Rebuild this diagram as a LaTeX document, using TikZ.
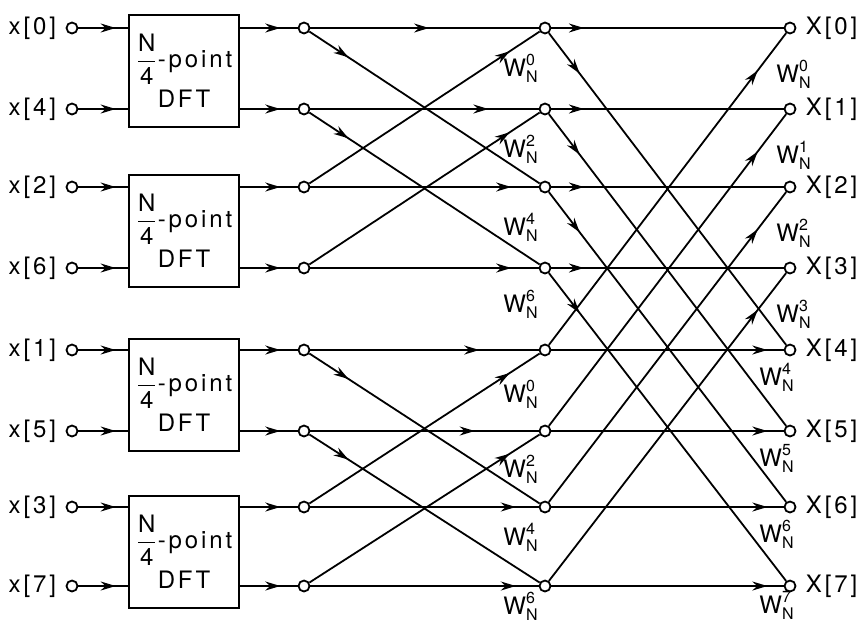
\documentclass[tikz,border=0pt]{standalone}
\usepackage{amsmath}
\usepackage{fontspec}
\setmainfont[LetterSpace=12]{TeX Gyre Heros}
\usetikzlibrary{arrows.meta,decorations.markings,calc,positioning}

\newcommand{\tw}[1]{$\text{W}^{\text{#1}}_{\text{N}}$}

\begin{document}
\begin{tikzpicture}[x=0.5pt,y=-0.5pt,line width=0.9pt]
  \tikzset{every node/.style={font=\fontsize{12}{14}\selectfont}}
  \tikzset{dot/.style={circle,draw,fill=white,inner sep=0pt,minimum size=5.5pt}}
  \tikzset{dftbox/.style={draw,minimum width=55pt,minimum height=56pt,align=center,inner sep=2pt}}
  \tikzset{arr/.style={postaction={decorate},decoration={markings,
      mark=at position #1 with {\arrow{Stealth[length=7.5pt,width=4.5pt]}}}}}
  \useasboundingbox (0,0) rectangle (865,622);

  \foreach \k/\y/\n in {0/28/0,1/109/4,2/187/2,3/268/6,4/350/1,5/431/5,6/507/3,7/586/7} {
    \node[dot] (x\k) at (72,\y) {};
    \node[left=1pt of x\k] (lx\k) {x[\n]};
    \node[dot] (p\k) at (304,\y) {};
    \node[dot] (q\k) at (545,\y) {};
    \node[dot] (X\k) at (790,\y) {};
    \node[right=1pt of X\k] (lX\k) {X[\k]};
  }
  \foreach \b/\y in {1/71,2/231,3/395,4/552}
    \node[dftbox] (dft\b) at (184,\y) {$\dfrac{\text{N}}{\text{4}}$-point\\[2pt]DFT};

  \foreach \k/\b in {0/1,1/1,2/2,3/2,4/3,5/3,6/4,7/4} {
    \draw[arr=0.75] (x\k) -- (x\k -| dft\b.west);
    \draw[arr=0.7] (x\k -| dft\b.east) -- (p\k);
  }

  \foreach \k/\m in {0/0.52,1/0.78,2/0.88,3/0.88,4/0.74,5/0.72,6/0.9,7/0.9}
    \draw[arr=\m] (p\k) -- (q\k);
  \foreach \a/\c in {0/2,1/3,4/6,5/7}
    \draw[arr=0.17] (p\a) -- (q\c);
  \foreach \a/\c in {2/0,3/1,6/4,7/5}
    \draw[arr=0.87] (p\a) -- (q\c);

  \foreach \k in {0,...,3}
    \draw[arr=0.14] (q\k) -- (X\k);
  \foreach \k in {4,...,7}
    \draw[arr=0.93] (q\k) -- (X\k);
  \foreach \a/\c in {0/4,1/5,2/6,3/7}
    \draw[arr=0.13] (q\a) -- (X\c);
  \foreach \a/\c in {4/0,5/1,6/2,7/3}
    \draw[arr=0.88] (q\a) -- (X\c);

  \foreach \k/\e/\dy in {0/0/40,1/2/40,2/4/40,3/6/36,4/0/44,5/2/38,6/4/30,7/6/20}
    \node (wq\k) at ($(q\k)+(-24,\dy)$) {\tw{\e}};
  \foreach \k in {0,...,3}
    \node (wX\k) at ($(X\k)+(4,46)$) {\tw{\k}};
  \foreach \k/\dy in {4/27,5/27,6/27,7/19}
    \node (wX\k) at ($(X\k)+(-13,\dy)$) {\tw{\k}};
\end{tikzpicture}
\end{document}
